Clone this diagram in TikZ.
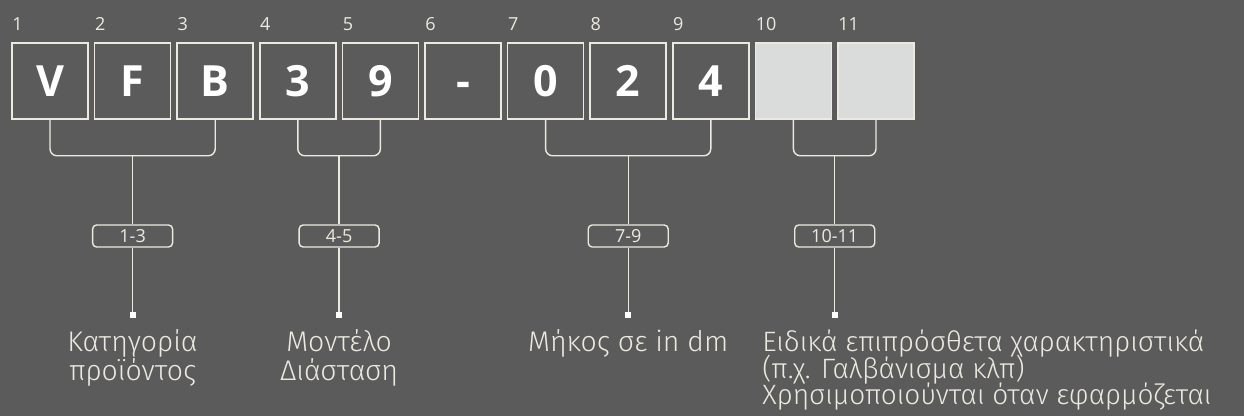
\documentclass[tikz,border=0pt]{standalone}
\usepackage{fontspec}
\setmainfont{Open Sans}
\newfontfamily\thinfont{Fira Sans Light}
\usetikzlibrary{positioning}
\definecolor{bggray}{HTML}{5B5B5B}
\definecolor{linecol}{HTML}{ECEAE0}
\definecolor{emptyfill}{HTML}{DADCDB}
\newcommand\tightlines{\lineskiplimit=-20pt\relax}

\tikzset{
  charbox/.style={draw=linecol, line width=0.8pt, minimum width=38pt, minimum height=38pt,
    inner sep=0pt, text height=15.4pt, text depth=0pt, text=white, font=\bfseries\fontsize{21.5}{24}\selectfont},
  emptybox/.style={charbox, fill=emptyfill},
  posnum/.style={anchor=base west, inner sep=0pt, text=linecol, font=\fontsize{9}{10}\selectfont},
  rangebox/.style={draw=linecol, line width=0.7pt, rounded corners=2pt, minimum width=40pt,
    minimum height=11pt, inner sep=0pt, text=linecol, font=\fontsize{9}{10}\selectfont},
  bracket/.style={draw=linecol, line width=0.7pt, rounded corners=3.5pt},
  endmark/.style={fill=white, minimum size=3pt, inner sep=0pt},
  descr/.style={inner sep=0pt, text=linecol, font=\thinfont\fontsize{14.2}{14.5}\selectfont\tightlines}
}

\begin{document}
\begin{tikzpicture}[x=0.5pt,y=-0.5pt]
	\useasboundingbox (0,0) rectangle (1244,416);
	\fill[bggray] (0,0) rectangle (1244,416);
	% character boxes and position numbers
	\foreach \i/\c in {1/V,2/F,3/B,4/3,5/9,6/-,7/0,8/2,9/4} {
		\node[charbox] (b\i) at ({50+(\i-1)*82.6},81) {\c};
		\node[posnum] (n\i) at ({12+(\i-1)*82.6},31) {\i};
	}
	\foreach \i in {10,11} {
		\node[emptybox] (b\i) at ({50+(\i-1)*82.6},81) {};
		\node[posnum] (n\i) at ({12+(\i-1)*82.6},31) {\i};
	}
	% brackets
	\draw[bracket] (b1.south) -- ++(0,36) -| (b3.south);
	\draw[bracket] (b4.south) -- ++(0,36) -| (b5.south);
	\draw[bracket] (b7.south) -- ++(0,36) -| (b9.south);
	\draw[bracket] (b10.south) -- ++(0,36) -| (b11.south);
	\coordinate (j1) at (132.6,155);
	\coordinate (j2) at (339.1,155);
	\coordinate (j3) at (628.2,155);
	\coordinate (j4) at (834.7,155);
	% ranges
	\node[rangebox] (r1) at (132.6,236) {1-3};
	\node[rangebox] (r2) at (339.1,236) {4-5};
	\node[rangebox] (r3) at (628.2,236) {7-9};
	\node[rangebox] (r4) at (834.7,236) {10-11};
	\foreach \k in {1,...,4} {
		\node[endmark] (m\k) at (r\k |- 0,315.5) {};
		\draw[bracket] (j\k) -- (r\k.north);
		\draw[bracket] (r\k.south) -- (m\k.north);
	}
	% descriptions (base = last line)
	\node[descr, anchor=base, align=center] (d1) at (132.6,381) {Κατηγορία\\προϊόντος};
	\node[descr, anchor=base, align=center] (d2) at (339.1,381) {Μοντέλο\\Διάσταση};
	\node[descr, anchor=base] (d3) at (628.2,352) {Μήκος σε in dm};
	\node[descr, anchor=base west, align=left, font=\thinfont\fontsize{14}{13.2}\selectfont\tightlines] (d4) at (762,404.8)
		{Ειδικά επιπρόσθετα χαρακτηριστικά\\(π.χ. Γαλβάνισμα κλπ)\\Χρησιμοποιούνται όταν εφαρμόζεται};
\end{tikzpicture}
\end{document}
